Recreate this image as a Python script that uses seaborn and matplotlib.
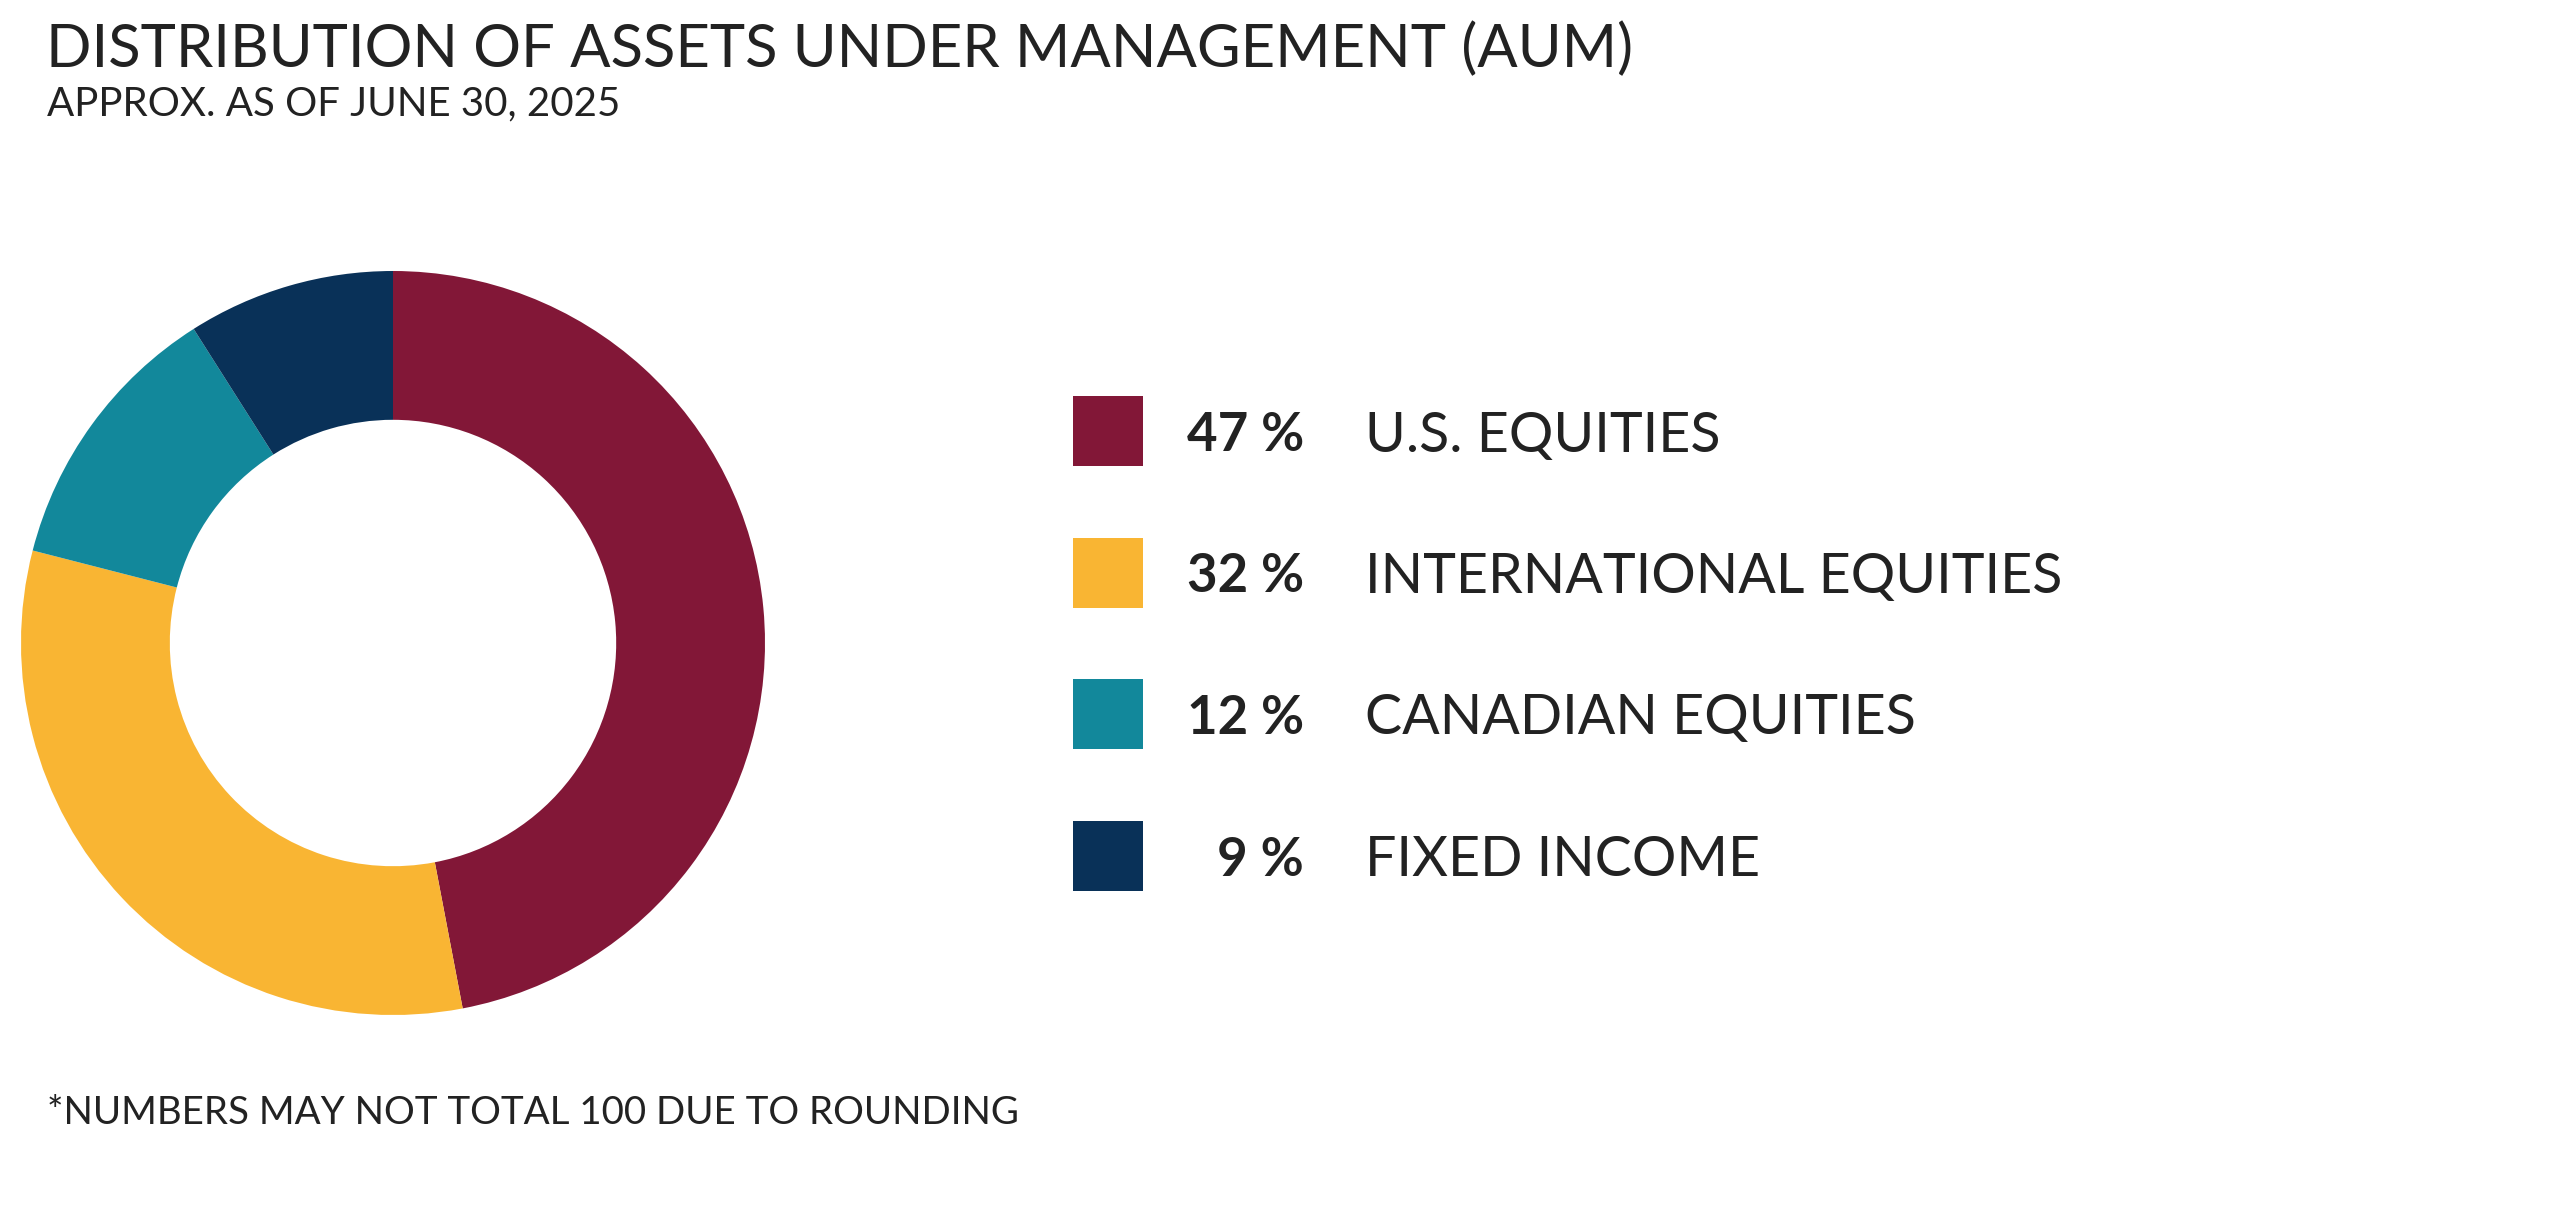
import matplotlib
matplotlib.use("Agg")
import matplotlib.pyplot as plt
from matplotlib.patches import Rectangle
import seaborn as sns

# ---- data ----
categories = ["U.S. EQUITIES", "INTERNATIONAL EQUITIES", "CANADIAN EQUITIES", "FIXED INCOME"]
values = [47, 32, 12, 9]
colors = ["#821737", "#F9B533", "#12889B", "#093158"]
title = "DISTRIBUTION OF ASSETS UNDER MANAGEMENT (AUM)"
subtitle = "APPROX. AS OF JUNE 30, 2025"
footnote = "*NUMBERS MAY NOT TOTAL 100 DUE TO ROUNDING"

sns.set_theme(style="white")
plt.rcParams["font.family"] = ["Lato", "DejaVu Sans"]

W, H = 2560, 1206
fig = plt.figure(figsize=(W / 100, H / 100), dpi=100)
fig.patch.set_facecolor("white")

# donut
cx, cy, r = 393, 643, 372
ax = fig.add_axes([(cx - r) / W, (H - cy - r) / H, 2 * r / W, 2 * r / H])
ax.pie(values, colors=colors, startangle=90, counterclock=False,
       wedgeprops=dict(width=0.4, edgecolor="none", linewidth=0))
ax.set_xlim(-1, 1)
ax.set_ylim(-1, 1)
ax.set_aspect("auto")
ax.axis("off")

# overlay in pixel coordinates
ov = fig.add_axes([0, 0, 1, 1])
ov.set_xlim(0, W)
ov.set_ylim(H, 0)
ov.axis("off")
ov.patch.set_alpha(0)

txt = "#222222"
ov.text(46, 44, title, fontsize=43, fontweight="normal", color=txt, va="center_baseline", ha="left")
ov.text(47, 100, subtitle, fontsize=29, fontweight="normal", color=txt, va="center_baseline", ha="left")
ov.text(47, 1110, footnote, fontsize=27.7, fontweight="normal", color=txt, va="center_baseline", ha="left")

row_y0, row_dy = 431, 141.5
for i, (cat, v, c) in enumerate(zip(categories, values, colors)):
    y = row_y0 + i * row_dy
    ov.add_patch(Rectangle((1073, y - 35), 70, 70, facecolor=c, edgecolor="none"))
    ov.text(1304, y, f"{v} %", fontsize=38, fontweight="bold", color=txt,
            va="center_baseline", ha="right")
    ov.text(1365, y, cat, fontsize=40, fontweight="normal", color=txt,
            va="center_baseline", ha="left")

fig.savefig("out.png", dpi=100, facecolor="white")
